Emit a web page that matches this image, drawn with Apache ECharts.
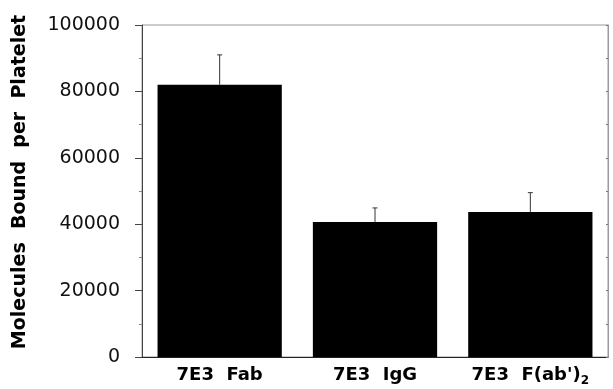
<!DOCTYPE html>
<html>
<head>
<meta charset="utf-8">
<script src="https://cdn.jsdelivr.net/npm/echarts@6/dist/echarts.min.js"></script>
<style>
  html, body { margin: 0; padding: 0; background: #fff; }
  #chart { width: 613px; height: 389px; }
</style>
</head>
<body>
<div id="chart"></div>
<script>
const categories = ['7E3  Fab', '7E3  IgG', "7E3  F(ab')2"];
const boundValues = [82000, 40700, 43700];
const errorValues = [9000, 4200, 5800];
const yTicks = [0, 20000, 40000, 60000, 80000, 100000];

const myChart = echarts.init(document.getElementById('chart'));

const option = {
  animation: false,
  grid: {
    left: 142,
    right: 5,
    top: 25,
    bottom: 32,
    show: true,
    borderColor: '#999',
    borderWidth: 1
  },
  graphic: [
    {
      type: 'text',
      x: 20,
      y: 182,
      rotation: Math.PI / 2,
      style: {
        text: 'Molecules  Bound  per  Platelet',
        font: 'bold 19px "DejaVu Sans"',
        fill: '#000',
        align: 'center',
        verticalAlign: 'middle'
      }
    }
  ],
  xAxis: {
    type: 'category',
    data: categories,
    axisLine: { lineStyle: { color: '#222', width: 1 } },
    axisTick: { show: false },
    axisLabel: {
      margin: 4,
      formatter: function (v) {
        if (v.endsWith(')2')) {
          return '{n|' + v.slice(0, -1) + '}{s|2}';
        }
        return '{n|' + v + '}';
      },
      rich: {
        n: { fontFamily: 'DejaVu Sans', fontWeight: 'bold', fontSize: 18, color: '#000', lineHeight: 28 },
        s: { fontFamily: 'DejaVu Sans', fontWeight: 'bold', fontSize: 12, color: '#000', lineHeight: 16, padding: [12, 0, 0, 0] }
      }
    }
  },
  yAxis: [
    {
      type: 'value',
      min: yTicks[0],
      max: yTicks[yTicks.length - 1],
      interval: 20000,
      axisLine: { show: true, lineStyle: { color: '#444', width: 1 } },
      axisTick: { show: true, length: 7, lineStyle: { color: '#444' } },
      minorTick: { show: true, splitNumber: 2, length: 3, lineStyle: { color: '#888' } },
      splitLine: { show: false },
      axisLabel: {
        margin: 22,
        fontFamily: 'DejaVu Sans',
        fontSize: 19,
        color: '#111',
        formatter: function (v) { return String(v); }
      }
    },
    {
      type: 'value',
      position: 'right',
      min: yTicks[0],
      max: yTicks[yTicks.length - 1],
      interval: 10000,
      axisLine: { show: true, lineStyle: { color: '#999', width: 1 } },
      axisTick: { show: true, inside: true, length: 2, lineStyle: { color: '#777' } },
      splitLine: { show: false },
      axisLabel: { show: false }
    }
  ],
  series: [
    {
      name: 'Molecules',
      type: 'bar',
      data: boundValues,
      barWidth: '80%',
      itemStyle: { color: '#000' }
    },
    {
      name: 'SD',
      type: 'custom',
      data: boundValues.map((v, i) => [i, v, v + errorValues[i]]),
      renderItem: function (params, api) {
        const base = api.coord([api.value(0), api.value(1)]);
        const top = api.coord([api.value(0), api.value(2)]);
        const cap = 2.5;
        const style = { stroke: '#333', lineWidth: 1 };
        return {
          type: 'group',
          children: [
            { type: 'line', shape: { x1: base[0], y1: base[1], x2: top[0], y2: top[1] }, style: style },
            { type: 'line', shape: { x1: top[0] - cap, y1: top[1], x2: top[0] + cap, y2: top[1] }, style: style }
          ]
        };
      },
      z: 5
    }
  ]
};

myChart.setOption(option);
</script>
</body>
</html>
